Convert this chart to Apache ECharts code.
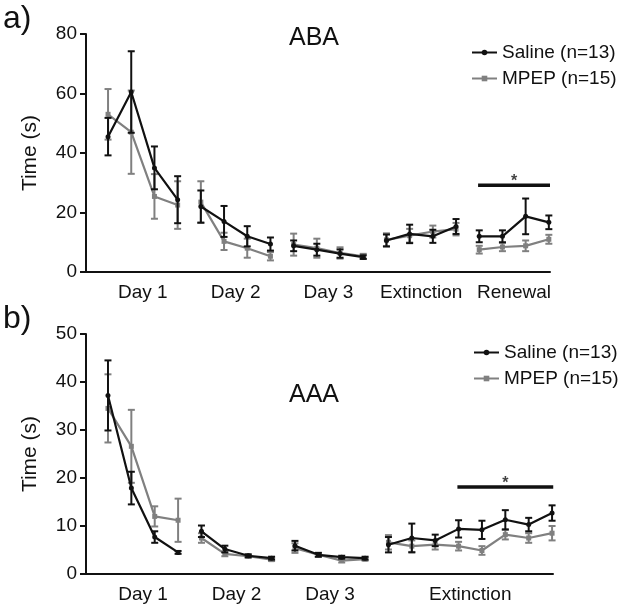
<!DOCTYPE html>
<html><head><meta charset="utf-8">
<script src="https://cdn.jsdelivr.net/npm/echarts@6/dist/echarts.min.js"></script>
<style>html,body{margin:0;padding:0;background:#fff}#c{width:631px;height:610px}</style>
</head><body><div id="c"></div>
<script>
// ---------- DATA ----------
const groupsA = ['Day 1', 'Day 2', 'Day 3', 'Extinction', 'Renewal'];
const groupSizesA = [4, 4, 4, 4, 4];
const salineA    = [45.5, 60.5, 35, 24.3, 22, 17, 12, 9.4, 8.8, 7.5, 6.2, 5.0, 10.6, 12.8, 12, 15.3, 12, 12, 18.7, 16.7];
const salineASem = [6.3, 13.7, 7.2, 7.9, 5.4, 5.2, 3.4, 2.2, 1.8, 2.0, 1.4, 0.6, 2.0, 3.1, 2.2, 2.5, 2.0, 2.0, 6.0, 2.3];
const mpepA      = [53, 47, 25.4, 22.5, 23.5, 10.3, 8, 5.3, 9.2, 8, 6.4, 5.3, 10.8, 12.2, 13.6, 14.4, 7.5, 8.4, 8.8, 11];
const mpepASem   = [8.5, 14, 7.5, 8, 7, 2.9, 3.2, 1.4, 3.7, 3.2, 1.9, 0.8, 2.2, 2.3, 2.0, 2.1, 1.3, 1.4, 1.8, 1.5];

const groupsB = ['Day 1', 'Day 2', 'Day 3', 'Extinction'];
const groupSizesB = [4, 4, 4, 8];
const salineB    = [37.2, 17.9, 7.7, 4.5, 8.9, 5.2, 3.8, 3.3, 5.9, 4.0, 3.5, 3.3, 6.1, 7.5, 7.0, 9.4, 9.2, 11.3, 10.3, 12.7];
const salineBSem = [7.3, 3.4, 1.2, 0.3, 1.2, 0.7, 0.3, 0.3, 1.0, 0.4, 0.3, 0.3, 1.6, 3.0, 1.2, 1.8, 1.9, 2.0, 1.4, 1.6];
const mpepB      = [34.5, 26.6, 12, 11.2, 7.5, 4.2, 3.7, 3.0, 5.4, 4.0, 2.8, 3.1, 6.6, 5.8, 6.1, 5.8, 4.9, 8.2, 7.5, 8.5];
const mpepBSem   = [7.1, 7.6, 2.1, 4.5, 1.0, 0.5, 0.3, 0.3, 1.0, 0.4, 0.4, 0.3, 1.5, 1.2, 1.0, 0.9, 0.9, 1.0, 1.0, 1.5];

const yTicksA = [0, 20, 40, 60, 80];
const yTicksB = [0, 10, 20, 30, 40, 50];

const seriesNames = ['Saline (n=13)', 'MPEP (n=15)'];
const sigA = { from: 15.95, to: 19.05, y: 29.2 };
const sigB = { from: 14.95, to: 19.05, y: 18.1 };

// ---------- HELPERS ----------
const BLACK = '#111111', GRAY = '#808080';
const FONT = "'Liberation Sans', Arial, sans-serif";

function lineData(values, sizes) {
  const out = []; let k = 0;
  sizes.forEach((s, g) => {
    for (let i = 0; i < s; i++) { out.push([k, values[k]]); k++; }
    if (g < sizes.length - 1) out.push([k - 0.5, '-']);
  });
  return out;
}
function errData(values, sem) { return values.map((v, i) => [i, v - sem[i], v + sem[i]]); }
function centers(sizes) {
  const c = []; let k = 0;
  sizes.forEach(s => { c.push(k + (s - 1) / 2); k += s; });
  return c;
}
function errSeries(values, sem, color, gi) {
  return {
    type: 'custom', xAxisIndex: gi, yAxisIndex: gi, z: color === BLACK ? 4 : 2,
    data: errData(values, sem), encode: { x: 0, y: [1, 2] }, silent: true,
    renderItem: function (params, api) {
      const x = api.value(0);
      const lo = api.coord([x, api.value(1)]);
      const hi = api.coord([x, api.value(2)]);
      const w = 3.5;
      const st = { stroke: color, lineWidth: 2 };
      return { type: 'group', children: [
        { type: 'line', shape: { x1: lo[0], y1: lo[1], x2: hi[0], y2: hi[1] }, style: st },
        { type: 'line', shape: { x1: lo[0] - w, y1: lo[1], x2: lo[0] + w, y2: lo[1] }, style: st },
        { type: 'line', shape: { x1: hi[0] - w, y1: hi[1], x2: hi[0] + w, y2: hi[1] }, style: st }
      ]};
    }
  };
}
function lineSeries(name, values, sizes, color, gi) {
  return {
    name: name, type: 'line', xAxisIndex: gi, yAxisIndex: gi,
    data: lineData(values, sizes), connectNulls: false,
    symbol: color === BLACK ? 'circle' : 'rect', symbolSize: 5, showSymbol: true,
    lineStyle: { color: color, width: 2.2 }, itemStyle: { color: color },
    z: color === BLACK ? 5 : 3, animation: false
  };
}
function sigSeries(sig, gi) {
  return [{
    type: 'line', xAxisIndex: gi, yAxisIndex: gi, symbol: 'none', silent: true,
    data: [[sig.from, sig.y], [sig.to, sig.y]], lineStyle: { color: BLACK, width: 3.5 }, z: 6
  }, {
    type: 'scatter', xAxisIndex: gi, yAxisIndex: gi, symbolSize: 0, silent: true,
    data: [[(sig.from + sig.to) / 2, sig.y]],
    label: { show: true, formatter: '*', position: 'top', distance: -4, color: BLACK, fontSize: 16, fontWeight: 'bold', fontFamily: FONT }
  }];
}
function xAxis(gi, sizes, names, min, max) {
  const cs = centers(sizes);
  return {
    type: 'value', gridIndex: gi, min: min, max: max,
    axisLine: { show: true, onZero: false, lineStyle: { color: BLACK, width: 2 } },
    axisTick: { show: false }, splitLine: { show: false },
    axisLabel: {
      customValues: cs, margin: 11, fontSize: 19, color: BLACK, fontFamily: FONT,
      formatter: v => { const i = cs.findIndex(c => Math.abs(c - v) < 1e-6); return i >= 0 ? names[i] : ''; }
    }
  };
}
function yAxis(gi, ticks) {
  return {
    type: 'value', gridIndex: gi, min: ticks[0], max: ticks[ticks.length - 1], interval: ticks[1] - ticks[0],
    name: 'Time (s)', nameLocation: 'middle', nameGap: 45, nameMoveOverlap: false,
    nameTextStyle: { fontSize: 21, color: BLACK, fontFamily: FONT },
    axisLine: { show: true, onZero: false, lineStyle: { color: BLACK, width: 2 } },
    axisTick: { show: true, length: 6, lineStyle: { color: BLACK, width: 2 } },
    splitLine: { show: false },
    axisLabel: { margin: 9, fontSize: 19, color: BLACK, fontFamily: FONT }
  };
}
const legendCommon = {
  orient: 'vertical', itemWidth: 25, itemHeight: 7, itemGap: 7, data: seriesNames,
  textStyle: { fontSize: 19, color: BLACK, fontFamily: FONT }, selectedMode: false
};

const option = {
  animation: false,
  title: [
    { text: 'a)', left: -2, top: -2, textStyle: { fontSize: 32, fontWeight: 'normal', color: BLACK, fontFamily: FONT } },
    { text: 'b)', left: -2, top: 298, textStyle: { fontSize: 32, fontWeight: 'normal', color: BLACK, fontFamily: FONT } },
    { text: 'ABA', left: 284, top: 21, textStyle: { fontSize: 25, fontWeight: 'normal', color: BLACK, fontFamily: FONT } },
    { text: 'AAA', left: 284, top: 378, textStyle: { fontSize: 25, fontWeight: 'normal', color: BLACK, fontFamily: FONT } }
  ],
  legend: [
    Object.assign({}, legendCommon, { left: 466, top: 38 }),
    Object.assign({}, legendCommon, { left: 468, top: 338 })
  ],
  grid: [
    { left: 86, top: 34, width: 464, height: 238, outerBoundsMode: 'none', containLabel: false },
    { left: 86, top: 334, width: 467, height: 240, outerBoundsMode: 'none', containLabel: false }
  ],
  xAxis: [xAxis(0, groupSizesA, groupsA, -0.95, 19.05), xAxis(1, groupSizesB, groupsB, -0.94, 19.04)],
  yAxis: [yAxis(0, yTicksA), yAxis(1, yTicksB)],
  series: [
    errSeries(mpepA, mpepASem, GRAY, 0),
    lineSeries(seriesNames[1], mpepA, groupSizesA, GRAY, 0),
    errSeries(salineA, salineASem, BLACK, 0),
    lineSeries(seriesNames[0], salineA, groupSizesA, BLACK, 0),
    ...sigSeries(sigA, 0),
    errSeries(mpepB, mpepBSem, GRAY, 1),
    lineSeries(seriesNames[1], mpepB, groupSizesB, GRAY, 1),
    errSeries(salineB, salineBSem, BLACK, 1),
    lineSeries(seriesNames[0], salineB, groupSizesB, BLACK, 1),
    ...sigSeries(sigB, 1)
  ]
};
const chart = echarts.init(document.getElementById('c'), null, { renderer: 'canvas' });
chart.setOption(option);
</script>
</body></html>
